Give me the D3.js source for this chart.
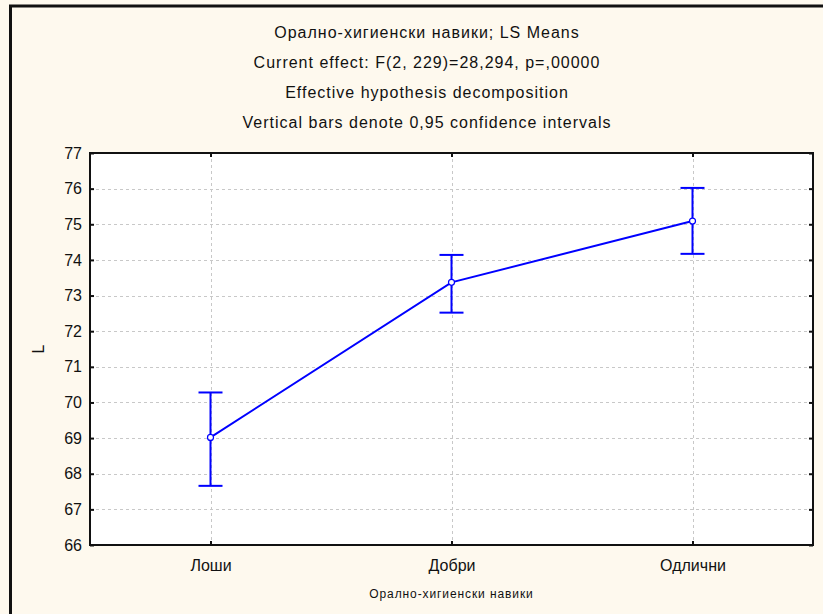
<!DOCTYPE html>
<html>
<head>
<meta charset="utf-8">
<script src="https://cdn.jsdelivr.net/npm/d3@7"></script>
<style>
  body { margin: 0; background: #ffffff; }
  svg { display: block; }
</style>
</head>
<body>
<script>
// LS means of L by oral-hygiene habits, with 0.95 confidence limits
const categories = ["Лоши", "Добри", "Одлични"];
const means   = [69.02, 73.37, 75.09];
const ciLower = [67.66, 72.52, 74.17];
const ciUpper = [70.28, 74.14, 76.02];
const yTicks  = [66, 67, 68, 69, 70, 71, 72, 73, 74, 75, 76, 77];
const titleLines = [
  "Орално-хигиенски навики; LS Means",
  "Current effect: F(2, 229)=28,294, p=,00000",
  "Effective hypothesis decomposition",
  "Vertical bars denote 0,95 confidence intervals"
];
const xTitle = "Орално-хигиенски навики";
const yTitle = "L";

const W = 823, H = 614;
const plot = { left: 90, right: 813, top: 153, bottom: 545 };
const font = "'Liberation Sans', Arial, sans-serif";

const svg = d3.select("body").append("svg")
  .attr("width", W).attr("height", H);

// window background and frame
svg.append("rect").attr("width", W).attr("height", H).attr("fill", "#fef9ee");
svg.append("line").attr("x1", 9).attr("x2", W).attr("y1", 6).attr("y2", 6)
  .attr("stroke", "#111").attr("stroke-width", 3);
svg.append("line").attr("x1", 10.5).attr("x2", 10.5).attr("y1", 5).attr("y2", H)
  .attr("stroke", "#111").attr("stroke-width", 3);

// titles
svg.append("g").selectAll("text").data(titleLines).join("text")
  .attr("x", 427)
  .attr("y", (d, i) => 32 + i * 30)
  .attr("dy", "0.35em")
  .attr("text-anchor", "middle")
  .attr("font-family", font)
  .attr("font-size", 16)
  .attr("letter-spacing", "1px")
  .attr("fill", "#111")
  .text(d => d);

const x = d3.scalePoint().domain(categories).range([plot.left, plot.right]).padding(0.5);
const y = d3.scaleLinear().domain([66, 77]).range([plot.bottom, plot.top]);

// plot area
svg.append("rect")
  .attr("x", plot.left).attr("y", plot.top)
  .attr("width", plot.right - plot.left).attr("height", plot.bottom - plot.top)
  .attr("fill", "#ffffff");

// dashed grid
const grid = svg.append("g").attr("stroke", "#c8c8c8").attr("stroke-width", 1)
  .attr("stroke-dasharray", "3,3");
grid.selectAll("line.h").data(yTicks.filter(v => v > 66 && v < 77)).join("line")
  .attr("class", "h")
  .attr("x1", plot.left).attr("x2", plot.right)
  .attr("y1", d => Math.round(y(d)) + 0.5).attr("y2", d => Math.round(y(d)) + 0.5);
grid.selectAll("line.v").data(categories).join("line")
  .attr("class", "v")
  .attr("x1", d => Math.round(x(d)) + 0.5).attr("x2", d => Math.round(x(d)) + 0.5)
  .attr("y1", plot.top).attr("y2", plot.bottom);

// axes
const axisStyle = g => {
  g.select(".domain").remove();
  g.selectAll(".tick line").attr("stroke", "#111").attr("stroke-width", 2);
  g.selectAll(".tick text").attr("font-family", font).attr("font-size", 16).attr("fill", "#111");
};
svg.append("g").attr("transform", `translate(${plot.left},0)`)
  .call(d3.axisLeft(y).tickValues(yTicks).tickSize(-4).tickPadding(8).tickFormat(d3.format("d")))
  .call(axisStyle);
svg.append("g").attr("transform", `translate(${plot.right},0)`)
  .call(d3.axisRight(y).tickValues(yTicks).tickSize(-4).tickFormat(""))
  .call(axisStyle);
svg.append("g").attr("transform", `translate(0,${plot.bottom})`)
  .call(d3.axisBottom(x).tickSize(-4).tickPadding(15))
  .call(axisStyle);
svg.append("g").attr("transform", `translate(0,${plot.top})`)
  .call(d3.axisTop(x).tickSize(-4).tickFormat(""))
  .call(axisStyle);

// plot frame
svg.append("rect")
  .attr("x", plot.left).attr("y", plot.top)
  .attr("width", plot.right - plot.left).attr("height", plot.bottom - plot.top)
  .attr("fill", "none").attr("stroke", "#111").attr("stroke-width", 2);

// axis titles
svg.append("text")
  .attr("x", (plot.left + plot.right) / 2).attr("y", 594)
  .attr("dy", "0.35em").attr("text-anchor", "middle")
  .attr("font-family", font).attr("font-size", 12).attr("letter-spacing", "0.9px")
  .attr("fill", "#111")
  .text(xTitle);
svg.append("text")
  .attr("transform", `translate(38,${(plot.top + plot.bottom) / 2}) rotate(-90)`)
  .attr("dy", "0.35em").attr("text-anchor", "middle")
  .attr("font-family", font).attr("font-size", 16).attr("fill", "#111")
  .text(yTitle);

// means line, confidence bars and markers
const blue = "#0000ff";
const rows = categories.map((c, i) => ({ c, m: means[i], lo: ciLower[i], hi: ciUpper[i] }));

svg.append("path").datum(rows)
  .attr("fill", "none").attr("stroke", blue).attr("stroke-width", 2)
  .attr("d", d3.line().x(d => x(d.c)).y(d => y(d.m)));

const bars = svg.append("g").attr("stroke", blue).attr("stroke-width", 2);
bars.selectAll("line.stem").data(rows).join("line").attr("class", "stem")
  .attr("x1", d => x(d.c)).attr("x2", d => x(d.c))
  .attr("y1", d => y(d.lo)).attr("y2", d => y(d.hi));
bars.selectAll("line.hi").data(rows).join("line").attr("class", "hi")
  .attr("x1", d => x(d.c) - 12).attr("x2", d => x(d.c) + 12)
  .attr("y1", d => y(d.hi)).attr("y2", d => y(d.hi));
bars.selectAll("line.lo").data(rows).join("line").attr("class", "lo")
  .attr("x1", d => x(d.c) - 12).attr("x2", d => x(d.c) + 12)
  .attr("y1", d => y(d.lo)).attr("y2", d => y(d.lo));

svg.append("g").selectAll("circle").data(rows).join("circle")
  .attr("cx", d => x(d.c)).attr("cy", d => y(d.m)).attr("r", 3)
  .attr("fill", "#ffffff").attr("stroke", blue).attr("stroke-width", 1.2);
</script>
</body>
</html>
